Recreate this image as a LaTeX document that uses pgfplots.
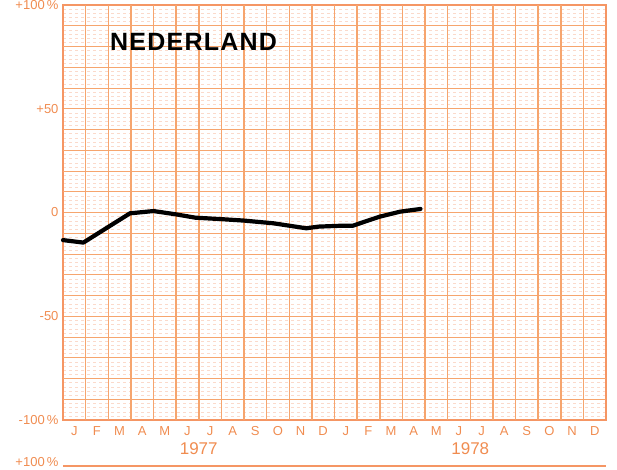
\documentclass[border=0pt]{standalone}
\usepackage{fontspec}
\setmainfont{Liberation Sans}
\usepackage{pgfplots}
\pgfplotsset{compat=1.18}
\definecolor{lab}{RGB}{240,140,80}
\definecolor{gmaj}{RGB}{246,165,110}
\definecolor{gmin}{RGB}{251,218,203}
\definecolor{box}{RGB}{245,150,100}
\begin{document}
\begin{tikzpicture}
\useasboundingbox (-63pt,-49pt) rectangle (554pt,420pt);
\begin{axis}[
  scale only axis, width=543pt, height=415pt,
  xmin=0, xmax=24, ymin=-100, ymax=100,
  clip=false,
  axis line style={box, line width=1.4pt},
  xtick={0.5,1.5,...,23.5},
  xticklabels={J,F,M,A,M,J,J,A,S,O,N,D,J,F,M,A,M,J,J,A,S,O,N,D},
  xmajorgrids=false, xminorgrids=false,
  ytick={-100,-50,0,50,100},
  yticklabels={-100\,\%,-50,0,+50,+100\,\%},
  minor ytick={-98,-96,-94,-92,-88,-86,-84,-82,-78,-76,-74,-72,-68,-66,-64,-62,-58,-56,-54,-52,-48,-46,-44,-42,-38,-36,-34,-32,-28,-26,-24,-22,-18,-16,-14,-12,-8,-6,-4,-2,2,4,6,8,12,14,16,18,22,24,26,28,32,34,36,38,42,44,46,48,52,54,56,58,62,64,66,68,72,74,76,78,82,84,86,88,92,94,96,98},
  yminorgrids=true,
  ymajorgrids=true,
  minor grid style={color=gmin, line width=0.4pt, dash pattern=on 3pt off 3pt},
  major grid style={color=gmaj, line width=0.9pt},
  x tick style={draw=none}, y tick style={draw=none},
  minor tick length=0pt, major tick length=0pt,
  xticklabel style={font=\fontsize{13}{15}\selectfont, text=lab, yshift=-3pt},
  yticklabel style={font=\fontsize{13}{15}\selectfont, text=lab, xshift=-1pt},
  axis on top=false,
]
\pgfplotsinvokeforeach{-90,-80,-70,-60,-40,-30,-20,-10,10,20,30,40,60,70,80,90}{
  \addplot[color=gmaj, line width=0.9pt, forget plot] coordinates {(0,#1) (24,#1)};
}
\pgfplotsinvokeforeach{1,2,...,23}{
  \addplot[color=gmaj, line width=1.5pt, forget plot] coordinates {(#1,-100) (#1,100)};
}
\addplot[black, line width=4.2pt, line join=round, line cap=round] coordinates {
(0,-13.3) (0.9,-14.5) (2.96,-0.4) (4.0,0.7) (5.0,-0.9) (5.85,-2.5) (7,-3.2) (8,-3.9) (8.7,-4.6) (9.3,-5.2) (10.75,-7.6) (11.3,-6.8) (12.25,-6.4) (12.8,-6.4) (14.0,-2.0) (14.9,0.4) (15.8,1.7)
};
\node[font=\bfseries\fontsize{25}{28}\selectfont\addfontfeatures{LetterSpace=5}] at (axis cs:5.77,82.2) {NEDERLAND};
\node[font=\fontsize{17}{19}\selectfont, text=lab] at ([yshift=-29pt]axis cs:6,-100) {1977};
\node[font=\fontsize{17}{19}\selectfont, text=lab] at ([yshift=-29pt]axis cs:18,-100) {1978};
\node[font=\fontsize{13}{15}\selectfont, text=lab, anchor=east] at ([yshift=-42pt,xshift=-1pt]axis cs:0,-100) {+100\,\%};
\draw[box, line width=1.4pt] ([yshift=-46pt]axis cs:0,-100) -- ([yshift=-46pt]axis cs:24,-100);
\end{axis}
\end{tikzpicture}
\end{document}
